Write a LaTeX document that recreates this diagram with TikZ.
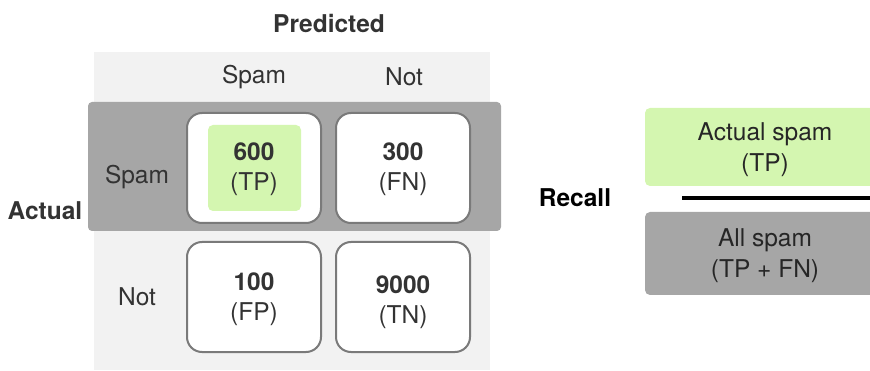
\documentclass[tikz,border=0pt]{standalone}
\usepackage{fontspec}
\setmainfont{TeX Gyre Heros}
\begin{document}
\definecolor{panel}{HTML}{F2F2F2}
\definecolor{band}{HTML}{A6A6A6}
\definecolor{cellline}{HTML}{7A7A7A}
\definecolor{hit}{HTML}{D4F6B0}
\definecolor{ink}{HTML}{333333}
\begin{tikzpicture}[x=1pt,y=-1pt,
  every node/.style={inner sep=0pt,outer sep=0pt},
  cell/.style={draw=cellline,line width=2pt,fill=white,rounded corners=15pt,
    minimum width=134pt,minimum height=110pt},
  celltext/.style={text=ink,align=center,font=\fontsize{24.5}{30}\selectfont},
  axis/.style={text=ink,font=\fontsize{24.5}{28}\selectfont},
  heading/.style={text=ink,font=\bfseries\fontsize{24.5}{28}\selectfont},
  ratio/.style={rounded corners=5pt,minimum width=240pt},
  ratiotext/.style={text=black!85,align=center,font=\fontsize{24.5}{31}\selectfont}]
\useasboundingbox (0,0) rectangle (870,371);
\clip (0,0) rectangle (870,371);

% confusion matrix backdrop
\fill[panel] (94,52) rectangle (490,370);
\fill[band,rounded corners=4pt] (88,102) rectangle (501,231);

% axis headings
\node[heading] (pred) at (329,23) {Predicted};
\node[heading] (act) at (45,211) {Actual};

% column and row labels
\node[axis] (colspam) at (254,77) {Spam};
\node[axis] (colnot) at (404,77) {Not};
\node[axis] (rowspam) at (137,177) {Spam};
\node[axis] (rownot) at (137,297) {Not};

% cells
\node[cell] (tp) at (254,168) {};
\node[fill=hit,rounded corners=5pt,minimum width=93pt,minimum height=86pt] (tphit) at (254.5,168) {};
\node[celltext] at ([yshift=-1pt]tp.center) {\textbf{600}\\(TP)};
\node[cell] (fn) at (403,168) {};
\node[celltext] at ([yshift=-1pt]fn.center) {\textbf{300}\\(FN)};
\node[cell] (fp) at (254,297) {};
\node[celltext] at ([yshift=-2pt]fp.center) {\textbf{100}\\(FP)};
\node[cell] (tn) at (403,297) {};
\node[celltext] at ([yshift=-5pt]tn.center) {\textbf{9000}\\(TN)};

% recall as a fraction
\node[heading,text=black] (recall) at (575,198) {Recall};
\node[ratio,fill=hit,minimum height=78pt] (num) at (765,147) {};
\node[ratiotext] at ([yshift=-3pt]num.center) {Actual spam\\(TP)};
\node[ratio,fill=band,minimum height=83pt] (den) at (765,253.5) {};
\node[ratiotext] at ([yshift=-2.5pt]den.center) {All spam\\(TP + FN)};
\coordinate (barL) at (682,198);
\coordinate (barR) at (875,198);
\draw[line width=4pt,black] (barL) -- (barR);
\end{tikzpicture}
\end{document}
